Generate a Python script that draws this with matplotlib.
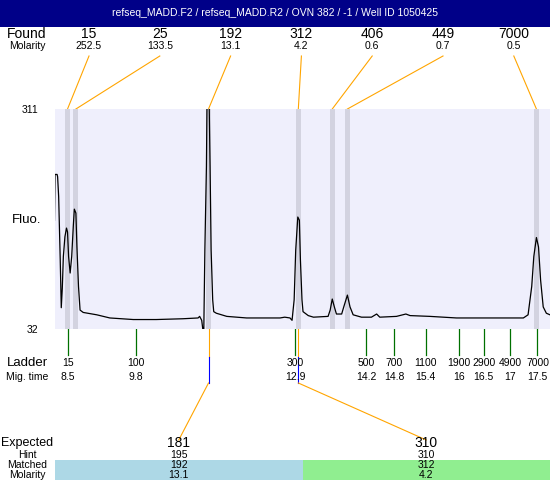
import matplotlib.pyplot as plt
from matplotlib.patches import Rectangle

plt.rcParams['font.family'] = ['Liberation Sans', 'DejaVu Sans']

title = 'refseq_MADD.F2 / refseq_MADD.R2 / OVN 382 / -1 / Well ID 1050425'

# electropherogram trace: migration time (min) vs fluorescence
mig_time = [8.25, 8.26, 8.30, 8.31, 8.33, 8.36, 8.38, 8.40, 8.42, 8.45, 8.48,
            8.50, 8.52, 8.55, 8.58, 8.61, 8.63, 8.66, 8.68, 8.71, 8.74,
            8.80, 9.06, 9.31, 9.76, 10.20, 10.71, 11.00, 11.03, 11.07, 11.09,
            11.11, 11.13, 11.16, 11.17, 11.19, 11.21, 11.23, 11.25, 11.28, 11.30,
            11.35, 11.55, 11.93, 12.57, 12.66, 12.76, 12.80, 12.84, 12.87, 12.91,
            12.94, 12.96, 12.99, 13.01, 13.11, 13.21, 13.49, 13.53, 13.57, 13.61,
            13.65, 13.75, 13.79, 13.86, 13.91, 13.97, 14.13, 14.32, 14.42, 14.48,
            14.80, 14.98, 15.06, 15.44, 15.95, 16.37, 16.84, 17.23, 17.32, 17.39,
            17.43, 17.48, 17.52, 17.56, 17.61, 17.67, 17.74]
fluo = [170, 228, 228, 225, 200, 120, 59, 84, 124, 149, 160,
        155, 124, 103, 124, 162, 184, 179, 136, 86, 56,
        53, 50, 46, 44, 44, 45, 46, 48, 43, 32,
        32, 132, 238, 310, 330, 330, 238, 132, 69, 54,
        52, 48, 46, 46, 47, 46, 43, 69, 132, 174,
        170, 120, 69, 54, 49, 47, 48, 56, 70, 60,
        51, 51, 60, 75, 60, 50, 47, 47, 51, 47,
        48, 51, 49, 48, 46, 46, 46, 46, 50, 86,
        124, 148, 136, 94, 60, 52, 50]

# found peaks
found_size = [15, 25, 192, 312, 406, 449, 7000]
found_molarity = [252.5, 133.5, 13.1, 4.2, 0.6, 0.7, 0.5]
found_time = [8.50, 8.66, 11.20, 12.92, 13.57, 13.86, 17.48]

# ladder
ladder_size = [15, 100, 300, 500, 700, 1100, 1900, 2900, 4900, 7000]
ladder_time = [8.5, 9.81, 12.86, 14.22, 14.76, 15.36, 15.99, 16.47, 16.98, 17.5]

# expected fragments
expected_size = [181, 310]
hint_size = [195, 310]
matched_size = [192, 312]
matched_molarity = [13.1, 4.2]
matched_peak = [2, 3]  # index into the found peaks

W, H = 550, 480
fig = plt.figure(figsize=(W / 100, H / 100), dpi=100)

# full-figure canvas in pixel units for labels and connectors
cv = fig.add_axes([0, 0, 1, 1])
cv.set_xlim(0, W)
cv.set_ylim(H, 0)
cv.axis('off')

# plot area
left, top, right, bottom = 55, 109, 550, 329
ax = fig.add_axes([left / W, (H - bottom) / H, (right - left) / W, (bottom - top) / H])
ax.set_facecolor('#efeffc')
for t in found_time:
    ax.axvspan(t - 0.05, t + 0.05, color='#d3d3e0', lw=0)
ax.plot(mig_time, fluo, color='black', lw=0.9)
ax.set_xlim(8.26, 17.74)
ax.set_ylim(32, 311)
ax.set_xticks([])
ax.set_yticks([32, 311])
ax.set_yticklabels(['32', '311'])
ax.tick_params(axis='y', length=0, pad=12, labelsize=7.5)
for s in ax.spines.values():
    s.set_visible(False)


def t2px(t):
    # map a migration time to canvas pixel x via the plot axes
    disp = ax.transData.transform((t, 32))
    return cv.transData.inverted().transform(disp)[0]


fs_big, fs_small = 10, 7.5
orange, blue, green = '#ffa500', '#0000ff', '#007000'

# title bar
cv.add_patch(Rectangle((0, 0), W, 27, color='#000088', lw=0))
cv.text(W / 2, 13.5, title, color='white', ha='center', va='center', fontsize=7.5)

# found row
cv.text(27, 34, 'Found', ha='center', va='center', fontsize=fs_big)
cv.text(27, 46, 'Molarity', ha='center', va='center', fontsize=fs_small)
for i, (sz, mol, t) in enumerate(zip(found_size, found_molarity, found_time)):
    x = 89 + 70.8 * i
    cv.text(x, 34, str(sz), ha='center', va='center', fontsize=fs_big)
    cv.text(x, 46, '%g' % mol, ha='center', va='center', fontsize=fs_small)
    cv.plot([x, t2px(t)], [56, top], color=orange, lw=0.8)

cv.text(27, 220, 'Fluo.', ha='center', va='center', fontsize=9.5)

# ladder row
cv.text(27, 363, 'Ladder', ha='center', va='center', fontsize=9.5)
cv.text(27, 377, 'Mig. time', ha='center', va='center', fontsize=fs_small)
for sz, t in zip(ladder_size, ladder_time):
    x = t2px(t)
    cv.plot([x, x], [bottom, 355], color=green, lw=0.9)
    cv.text(x, 363, str(sz), ha='center', va='center', fontsize=fs_small)
    cv.text(x, 377, '%g' % round(t, 1), ha='center', va='center', fontsize=fs_small)

# expected / matched table
col_w = (right - left) / len(expected_size)
colors = ['#add8e6', '#90ee90']
for k in range(len(expected_size)):
    x0 = left + col_w * k
    cx = x0 + col_w / 2
    cv.add_patch(Rectangle((x0, 460), col_w, 20, color=colors[k], lw=0))
    cv.text(cx, 443, str(expected_size[k]), ha='center', va='center', fontsize=fs_big)
    cv.text(cx, 455.5, str(hint_size[k]), ha='center', va='center', fontsize=fs_small)
    cv.text(cx, 465.5, str(matched_size[k]), ha='center', va='center', fontsize=fs_small)
    cv.text(cx, 474.5, '%g' % matched_molarity[k], ha='center', va='center', fontsize=fs_small)
    px = t2px(found_time[matched_peak[k]])
    cv.plot([px, px], [bottom, 357], color=orange, lw=0.8)
    cv.plot([px, px], [357, 383], color=blue, lw=0.8)
    cv.plot([px, cx], [383, 440], color=orange, lw=0.8)

cv.text(27, 443, 'Expected', ha='center', va='center', fontsize=9)
cv.text(27, 455.5, 'Hint', ha='center', va='center', fontsize=fs_small)
cv.text(27, 465.5, 'Matched', ha='center', va='center', fontsize=fs_small)
cv.text(27, 474.5, 'Molarity', ha='center', va='center', fontsize=fs_small)

plt.savefig('out.png', dpi=100)
